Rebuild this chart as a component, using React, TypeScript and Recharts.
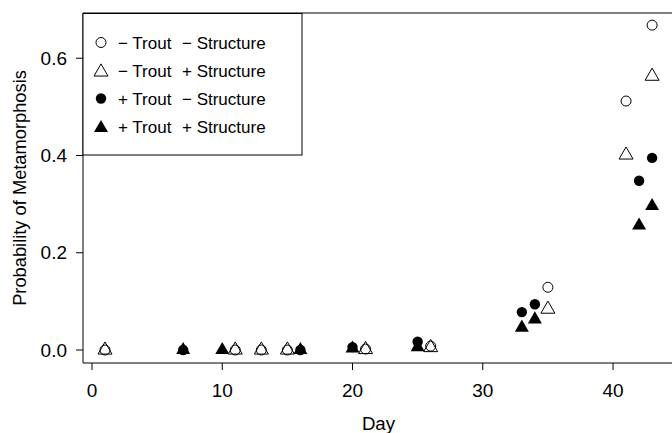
import React from 'react';
import { ScatterChart, Scatter, XAxis, YAxis, ReferenceLine, Label } from 'recharts';

// Days sampled and probability of metamorphosis for each treatment
const daysNoTroutNoStruct = [1, 11, 13, 15, 21, 26, 35, 41, 43];
const probNoTroutNoStruct = [0, 0, 0, 0, 0.002, 0.008, 0.129, 0.512, 0.668];

const daysNoTroutStruct = [1, 11, 13, 15, 21, 26, 35, 41, 43];
const probNoTroutStruct = [0, 0, 0, 0, 0.001, 0.005, 0.084, 0.401, 0.563];

const daysTroutNoStruct = [7, 16, 20, 25, 33, 34, 42, 43];
const probTroutNoStruct = [0, 0, 0.006, 0.017, 0.078, 0.094, 0.348, 0.395];

const daysTroutStruct = [7, 10, 16, 20, 25, 33, 34, 42, 43];
const probTroutStruct = [0, 0, 0, 0.003, 0.006, 0.046, 0.063, 0.256, 0.296];

const xTicks = [0, 10, 20, 30, 40];
const yTicks = [0, 0.2, 0.4, 0.6];
const xDomain = [-0.69, 44.68];
const yDomain = [-0.0267, 0.693];

const legendRows = [
  { trout: '\u2212 Trout', struct: '\u2212 Structure', kind: 'openCircle' },
  { trout: '\u2212 Trout', struct: '+ Structure', kind: 'openTri' },
  { trout: '+ Trout', struct: '\u2212 Structure', kind: 'fillCircle' },
  { trout: '+ Trout', struct: '+ Structure', kind: 'fillTri' },
];

const FONT = '"Liberation Sans", Arial, Helvetica, sans-serif';

const toData = (xs: number[], ys: number[]) => xs.map((x, i) => ({ x, y: ys[i] }));

const triPath = (cx: number, cy: number) =>
  `M${cx},${cy - 8.1}L${cx + 7},${cy + 4.05}L${cx - 7},${cy + 4.05}Z`;

const Marker = ({ kind, cx, cy }: { kind: string; cx: number; cy: number }) => {
  if (kind === 'openCircle')
    return <circle cx={cx} cy={cy} r={5} fill="none" stroke="#000" strokeWidth={1} />;
  if (kind === 'fillCircle') return <circle cx={cx} cy={cy} r={5.2} fill="#000" />;
  if (kind === 'openTri')
    return <path d={triPath(cx, cy)} fill="none" stroke="#000" strokeWidth={1} />;
  return <path d={triPath(cx, cy)} fill="#000" />;
};

const shapeFor = (kind: string) => (p: any) => <Marker kind={kind} cx={p.cx} cy={p.cy} />;

export default function App() {
  return (
    <div
      style={{
        position: 'absolute',
        left: 0,
        top: 0,
        width: 672,
        height: 433,
        overflow: 'hidden',
        background: '#fff',
        fontFamily: FONT,
      }}
    >
      <ScatterChart width={680} height={433} margin={{ top: 13, right: 6, bottom: 0, left: 0 }}>
        <XAxis
          type="number"
          dataKey="x"
          domain={xDomain}
          ticks={xTicks}
          allowDataOverflow
          height={70}
          tickSize={7}
          tickMargin={14}
          axisLine={{ stroke: '#000' }}
          tickLine={{ stroke: '#000' }}
          tick={{ fill: '#000', fontSize: 19, fontFamily: FONT }}
        >
          <Label
            value="Day"
            position="insideBottom"
            offset={3}
            style={{ fill: '#000', fontSize: 18.7, fontFamily: FONT }}
          />
        </XAxis>
        <YAxis
          type="number"
          dataKey="y"
          domain={yDomain}
          ticks={yTicks}
          allowDataOverflow
          width={83}
          tickSize={7}
          tickMargin={9}
          tickFormatter={(v: number) => v.toFixed(1)}
          axisLine={{ stroke: '#000' }}
          tickLine={{ stroke: '#000' }}
          tick={{ fill: '#000', fontSize: 19, fontFamily: FONT }}
        >
          <Label
            value="Probability of Metamorphosis"
            angle={-90}
            position="insideLeft"
            offset={20}
            style={{ fill: '#000', fontSize: 18.3, fontFamily: FONT, textAnchor: 'middle' }}
          />
        </YAxis>
        <ReferenceLine y={yDomain[1]} stroke="#000" strokeWidth={1} />
        <Scatter
          data={toData(daysNoTroutNoStruct, probNoTroutNoStruct)}
          shape={shapeFor('openCircle')}
          isAnimationActive={false}
        />
        <Scatter
          data={toData(daysNoTroutStruct, probNoTroutStruct)}
          shape={shapeFor('openTri')}
          isAnimationActive={false}
        />
        <Scatter
          data={toData(daysTroutNoStruct, probTroutNoStruct)}
          shape={shapeFor('fillCircle')}
          isAnimationActive={false}
        />
        <Scatter
          data={toData(daysTroutStruct, probTroutStruct)}
          shape={shapeFor('fillTri')}
          isAnimationActive={false}
        />
      </ScatterChart>
      <svg
        width={672}
        height={433}
        style={{ position: 'absolute', left: 0, top: 0, pointerEvents: 'none' }}
      >
        <rect x={83} y={13.5} width={219} height={141.5} fill="#fff" stroke="#000" strokeWidth={1} />
        {legendRows.map((r, i) => {
          const cy = 42.5 + i * 28;
          return (
            <g key={i}>
              <Marker kind={r.kind} cx={101} cy={r.kind.endsWith('Tri') ? cy + 1.5 : cy} />
              <text x={118} y={cy + 6} fontSize={17} fontFamily={FONT} fill="#000">
                {r.trout}
              </text>
              <text x={182} y={cy + 6} fontSize={17} fontFamily={FONT} fill="#000">
                {r.struct}
              </text>
            </g>
          );
        })}
      </svg>
    </div>
  );
}
